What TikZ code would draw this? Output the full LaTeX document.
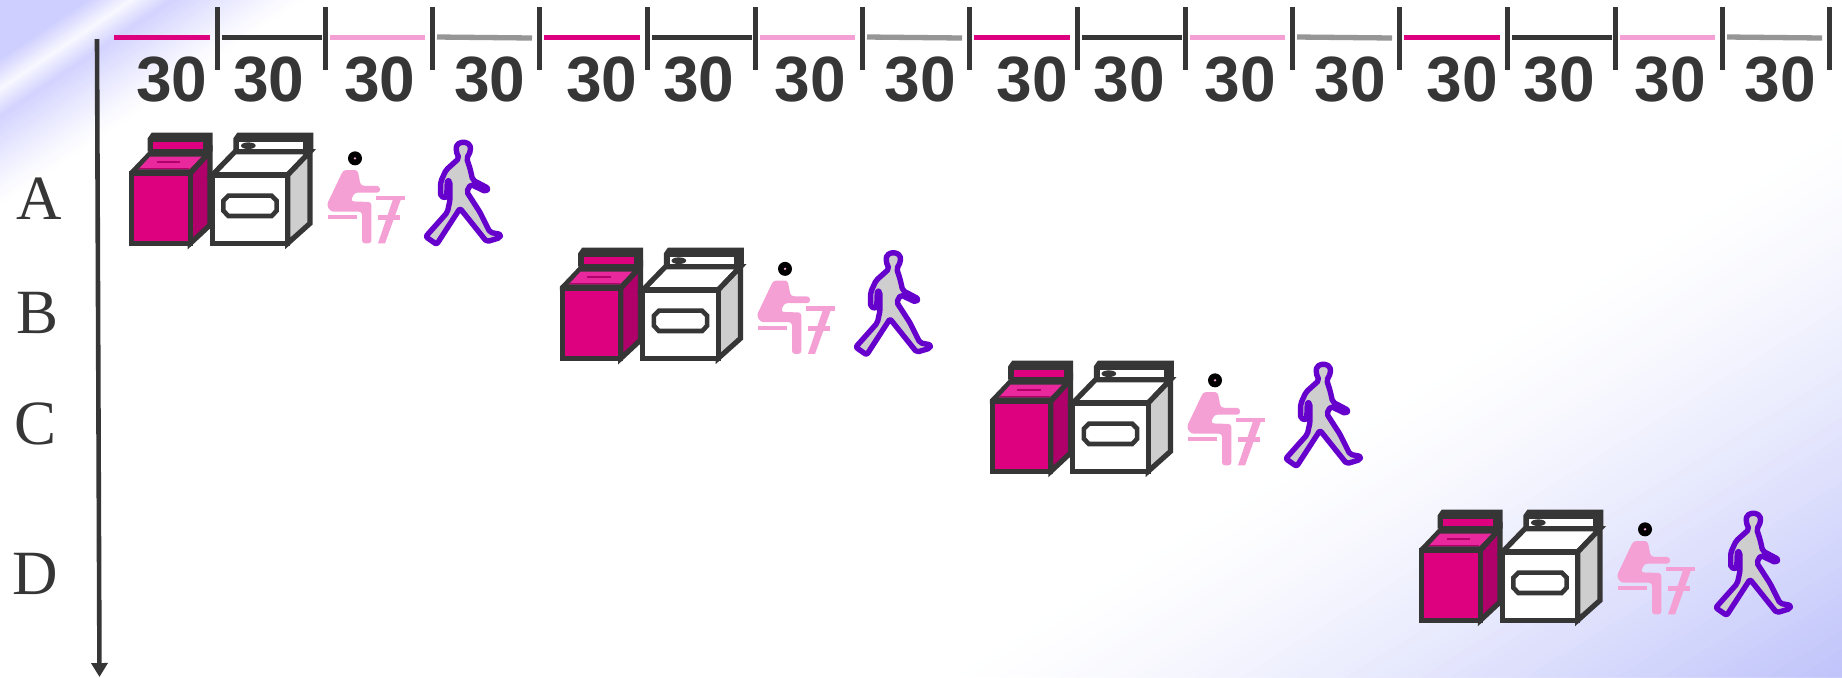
\documentclass[tikz,border=0pt]{standalone}
\usepackage{fontspec}
\usetikzlibrary{arrows.meta}
\setmainfont{Liberation Sans}
\newfontfamily\serifletters{Liberation Serif}
\definecolor{ink}{HTML}{363636}
\definecolor{mag}{HTML}{DD007F}
\definecolor{magdark}{HTML}{B0006A}
\definecolor{maglight}{HTML}{E8289C}
\definecolor{pale}{HTML}{F4A0D4}
\definecolor{greyseg}{HTML}{969696}
\definecolor{panel}{HTML}{CECECE}
\definecolor{walk}{HTML}{6600CC}
\definecolor{lavA}{HTML}{CFCFFF}
\definecolor{lavB}{HTML}{BFC3FA}
\tikzset{
  x=0.5pt,y=-0.5pt,
  seg/.style={line width=2.65pt},
  tickmark/.style={draw=ink,line width=2.5pt},
  numlabel/.style={font=\fontsize{32}{32}\selectfont\bfseries,text=ink,inner sep=0pt,anchor=center},
  rowlabel/.style={font=\serifletters\fontsize{31.5}{31.5}\selectfont,text=ink,inner sep=0pt,anchor=center},
  outl/.style={draw=ink,line width=2.6pt,line join=miter},
  machines/.pic={
    % zoom frame: 3 units per reference pixel, origin at (100,110)
    \begin{scope}[x=0.16667pt,y=-0.16667pt,shift={(300,330)}]
      % washer
      \fill[ink] (143,125)--(143,85)--(155,68)--(338,68)--(338,125)--cycle;
      \fill[mag] (160,97) rectangle (310,117);
      \fill[ink] (88,197)--(88,185)--(150,120)--(335,120)--(275,197)--cycle;
      \fill[maglight] (115,178)--(150,140)--(305,140)--(268,178)--cycle;
      \draw[magdark,line width=0.6pt] (118,176)--(268,176);
      \fill[magdark] (170,153) rectangle (240,160);
      \filldraw[outl,fill=magdark] (271,190)--(330,125)--(330,345)--(271,400)--cycle;
      \filldraw[outl,fill=mag] (95,190) rectangle (271,400);
      % dryer
      \fill[ink] (400,125)--(400,85)--(412,68)--(640,68)--(640,125)--cycle;
      \fill[white] (418,97) rectangle (610,117);
      \fill[ink] (445,107) ellipse [x radius=22,y radius=10];
      \filldraw[outl,fill=white] (337,195)--(405,125)--(630,125)--(563,195)--cycle;
      \filldraw[outl,fill=panel] (563,195)--(630,125)--(630,340)--(563,400)--cycle;
      \filldraw[outl,fill=white] (337,195) rectangle (563,400);
      \draw[outl,line width=2.3pt] (385,257)--(515,257)--(530,272)--(530,302)--(515,318)--(385,318)--(370,302)--(370,272)--cycle;
    \end{scope}
  },
  figures/.pic={
    % second zoom frame: 3 units per reference pixel, origin at (310,125)
    \begin{scope}[x=0.16667pt,y=-0.16667pt,shift={(930,375)}]
      \fill[black] (135,100) circle [radius=21];
      \fill[pale] (135,100) circle [radius=4];
      \fill[pale,rounded corners=1.5pt] (100,135)--(143,135)--(152,182)--(210,183)--(210,203)--(133,203)--(122,229)--(184,231)--(184,355)--(156,355)--(156,260)--(62,260)--(50,240)--cycle;
      \fill[pale] (54,270) rectangle (142,282);
      \fill[pale] (198,212) rectangle (285,225);
      \fill[pale] (205,270) rectangle (270,285);
      \fill[pale] (248,225)--(272,225)--(225,355)--(204,355)--cycle;
      \filldraw[draw=walk,fill=panel,line width=2.7pt,line join=round,rounded corners=1pt]
        (460,50)--(480,58)--(482,78)--(470,100)--(480,130)--(488,165)--(535,190)--(528,200)--(482,178)--(470,200)--(510,262)--(540,322)--(572,328)--(570,338)--(530,350)--(450,250)--(380,358)--(347,335)--(412,262)--(420,225)--(420,170)--(412,165)--(410,218)--(392,215)--(392,170)--(408,135)--(447,100)--(438,78)--(440,58)--cycle;
    \end{scope}
  }
}
\begin{document}
\begin{tikzpicture}
\useasboundingbox (0,0) rectangle (1842,677);
\clip (0,0) rectangle (1842,677);
\fill[white] (0,0) rectangle (1842,677);
% top-left background, painted from the outside in
\foreach \i in {0,...,66}{
  \pgfmathsetmacro{\t}{2.3-\i*0.025}
  \pgfmathsetmacro{\m}{\t>=1.3 ? 92*pow((2.3-\t),1.2) : (\t>=1 ? 15+77*(\t-1)/0.3 : min(100,15+77*(1-\t)/0.3))}
  \fill[lavA!\m!white] (0,0)--({133*\t},0)--(0,{90*\t})--cycle;
}
% bottom-right background
\foreach \i in {0,...,59}{
  \pgfmathsetmacro{\s}{\i/60}
  \pgfmathsetmacro{\m}{100*pow(\s+0.01,1.4)}
  \fill[lavB!\m!white] (1842,677)--({1842-902*(1-\s)},677)--(1842,{677-557*(1-\s)})--cycle;
}
% time segments
\foreach \o in {0,430,860,1290}{
  \begin{scope}[shift={(\o,0)}]
    \draw[seg,draw=mag] (114,37.5)--(210,37.5);
    \draw[seg,draw=ink] (222,37.5)--(322,37.5);
    \draw[seg,draw=pale] (330,37.5)--(425,37.5);
    \draw[seg,draw=greyseg] (437,37)--(532,38);
    \draw[tickmark] (217,7)--(217,70);
    \draw[tickmark] (325,7)--(325,70);
    \draw[tickmark] (432,7)--(432,70);
    \draw[tickmark] (539,7)--(539,70);
    \node[numlabel] at (172,80) {30};
    \node[numlabel] at (269,80) {30};
    \node[numlabel] at (380,80) {30};
    \node[numlabel] at (490,80) {30};
  \end{scope}
}
% rows
\node[rowlabel] (A) at (39,199) {A};
\node[rowlabel] (B) at (38,313) {B};
\node[rowlabel] (C) at (36,424) {C};
\node[rowlabel] (D) at (35,574) {D};
\coordinate (axistop) at (97,39);
\coordinate (axisend) at (99.5,677);
\draw[draw=ink,line width=2.3pt,-{Triangle[length=7pt,width=8pt]}] (axistop)--(axisend);
\pic at (0,0) {machines};
\pic at (430.5,115) {machines};
\pic at (860.5,228) {machines};
\pic at (1290,377) {machines};
\pic at (0,0) {figures};
\pic at (430,110.5) {figures};
\pic at (860,222) {figures};
\pic at (1290,371) {figures};
\end{tikzpicture}
\end{document}
